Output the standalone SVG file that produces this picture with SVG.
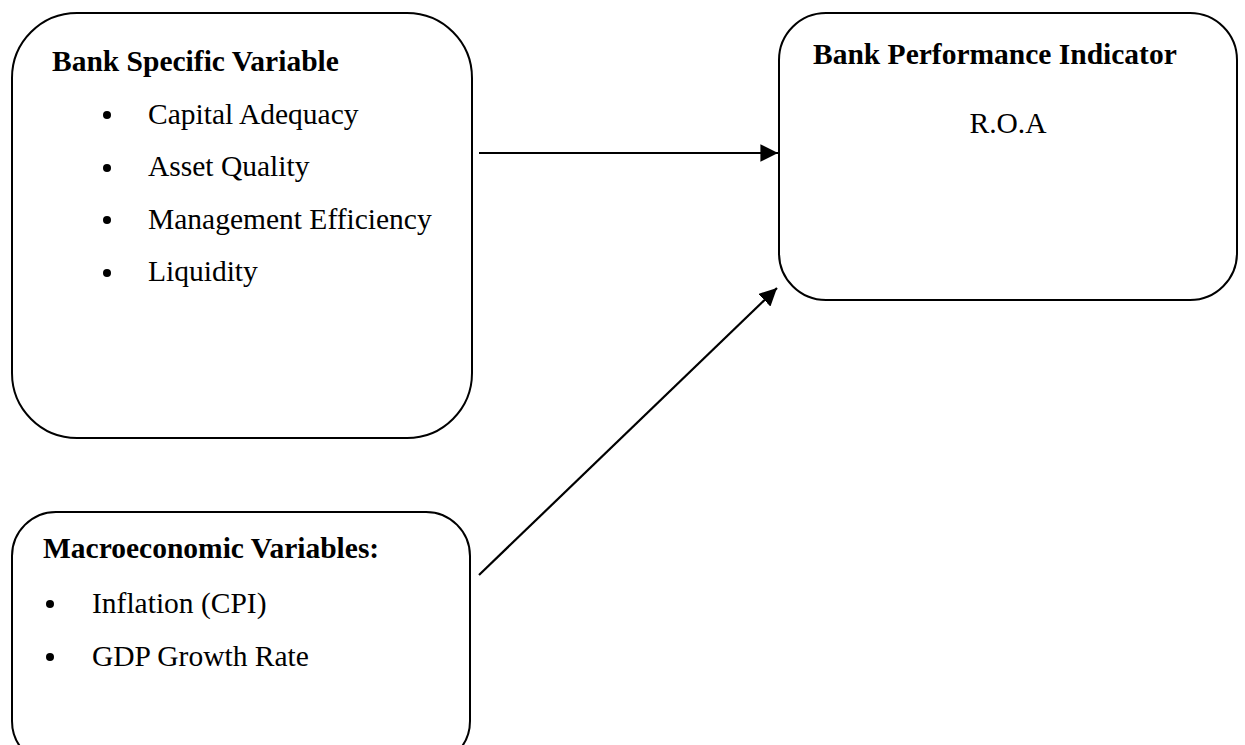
<svg xmlns="http://www.w3.org/2000/svg" width="1245" height="745" viewBox="0 0 1245 745">
<defs>
<style>
.box{fill:#fff;stroke:#000;stroke-width:2}
.h{font-family:"Liberation Serif","Times New Roman",serif;font-weight:bold;font-size:29.5px;fill:#000}
.t{font-family:"Liberation Serif","Times New Roman",serif;font-size:29.5px;fill:#000}
.c{stroke:#000;stroke-width:2.2;fill:none}
</style>
<marker id="ah" viewBox="0 0 10 10" refX="10" refY="5" markerWidth="8" markerHeight="8" markerUnits="strokeWidth" orient="auto">
<path d="M0,0 L10,5 L0,10 z" fill="#000"/>
</marker>
</defs>
<rect width="1245" height="745" fill="#fff"/>
<g id="bank-specific">
<rect class="box" x="12" y="13" width="460" height="425" rx="65" ry="65"/>
<text class="h" x="52" y="71">Bank Specific Variable</text>
<circle cx="107" cy="115" r="4"/>
<text class="t" x="148" y="124">Capital Adequacy</text>
<circle cx="107" cy="168" r="4"/>
<text class="t" x="148" y="176">Asset Quality</text>
<circle cx="107" cy="220" r="4"/>
<text class="t" x="148" y="229">Management Efficiency</text>
<circle cx="107" cy="273" r="4"/>
<text class="t" x="148" y="281">Liquidity</text>
</g>
<g id="performance">
<rect class="box" x="779" y="13" width="458" height="287" rx="47" ry="47"/>
<text class="h" x="813" y="64">Bank Performance Indicator</text>
<text class="t" x="1008" y="133" text-anchor="middle">R.O.A</text>
</g>
<g id="macro">
<rect class="box" x="12" y="512" width="458" height="253" rx="44" ry="44"/>
<text class="h" x="43" y="558">Macroeconomic Variables:</text>
<circle cx="50" cy="604" r="4"/>
<text class="t" x="92" y="613">Inflation (CPI)</text>
<circle cx="50" cy="657" r="4"/>
<text class="t" x="92" y="666">GDP Growth Rate</text>
</g>
<g id="connectors">
<line class="c" x1="479" y1="153" x2="778" y2="153" marker-end="url(#ah)"/>
<line class="c" x1="479" y1="575" x2="777" y2="288" marker-end="url(#ah)"/>
</g>
</svg>
